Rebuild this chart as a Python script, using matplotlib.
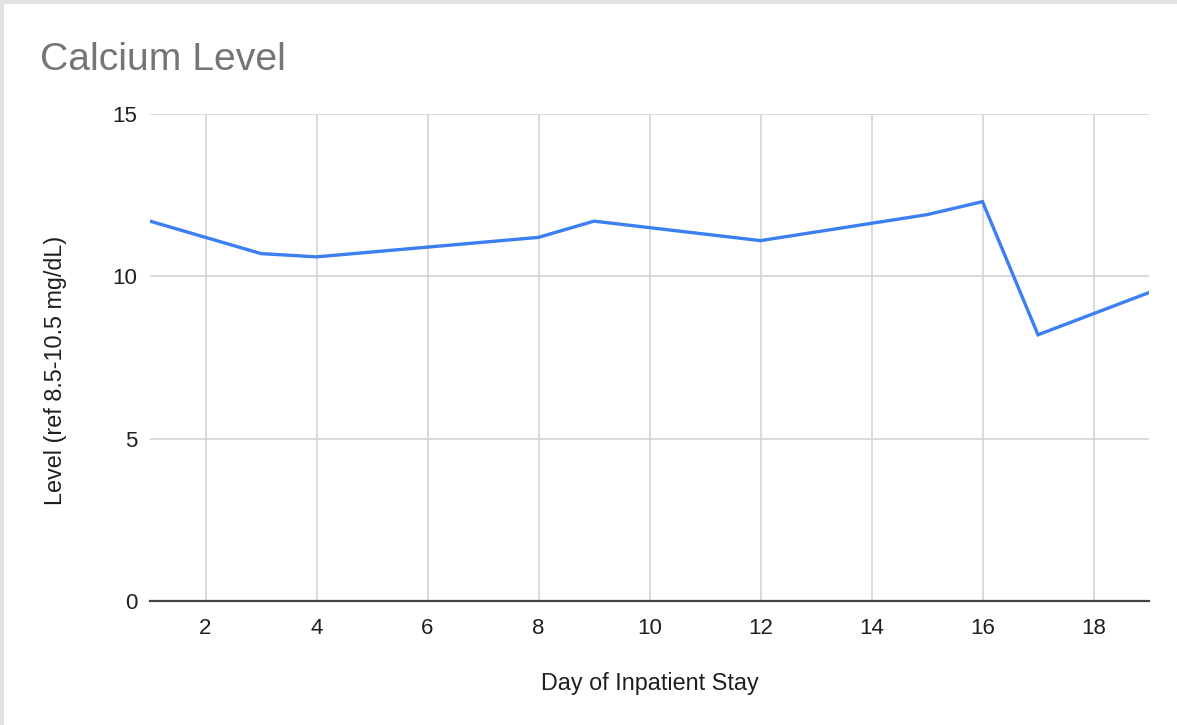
import matplotlib
matplotlib.use("Agg")
import matplotlib.pyplot as plt
from matplotlib.patches import Rectangle

# calcium readings by day of stay
days = [1, 3, 4, 8, 9, 12, 15, 16, 17, 19]
calcium = [11.7, 10.7, 10.6, 11.2, 11.7, 11.1, 11.9, 12.3, 8.2, 9.5]

x_ticks = [2, 4, 6, 8, 10, 12, 14, 16, 18]
y_ticks = [0, 5, 10, 15]

plt.rcParams['font.family'] = ['Liberation Sans', 'DejaVu Sans']

W, H = 1177, 725
fig = plt.figure(figsize=(W / 100, H / 100), dpi=100)
ax = fig.add_axes([150 / W, 1 - 601 / H, (1149 - 150) / W, (601 - 114) / H])

ax.plot(days, calcium, color='#3b7ff2', linewidth=2.4, solid_joinstyle='miter')

ax.set_xlim(1, 19)
ax.set_ylim(0, 15)
ax.set_xticks(x_ticks)
ax.set_yticks(y_ticks)
ax.grid(True, color='#d4d4d4', linewidth=1.2)
ax.set_axisbelow(True)
for s in ['top', 'right', 'left']:
    ax.spines[s].set_visible(False)
ax.spines['bottom'].set_color('#444444')
ax.spines['bottom'].set_linewidth(1.6)
ax.spines['bottom'].set_zorder(3)
ax.tick_params(length=0, labelsize=16, colors='#1f1f1f')
ax.tick_params(axis='x', pad=12)
ax.tick_params(axis='y', pad=9)

ax.set_xlabel('Day of Inpatient Stay', fontsize=16.8, color='#1f1f1f', labelpad=24)
ax.set_ylabel('Level (ref 8.5-10.5 mg/dL)', fontsize=16.8, color='#1f1f1f',
              labelpad=33, y=0.474)

fig.text(40 / W, 1 - 60 / H, 'Calcium Level', fontsize=28.2, color='#757575', va='center', ha='left')

# grey edge along the top and left of the card
fig.patches.append(Rectangle((0, 1 - 4 / H), 1, 4 / H, transform=fig.transFigure,
                             facecolor='#e2e2e2', edgecolor='none', zorder=10))
fig.patches.append(Rectangle((0, 0), 4 / W, 1, transform=fig.transFigure,
                             facecolor='#e2e2e2', edgecolor='none', zorder=10))

fig.savefig('out.png', dpi=100)
